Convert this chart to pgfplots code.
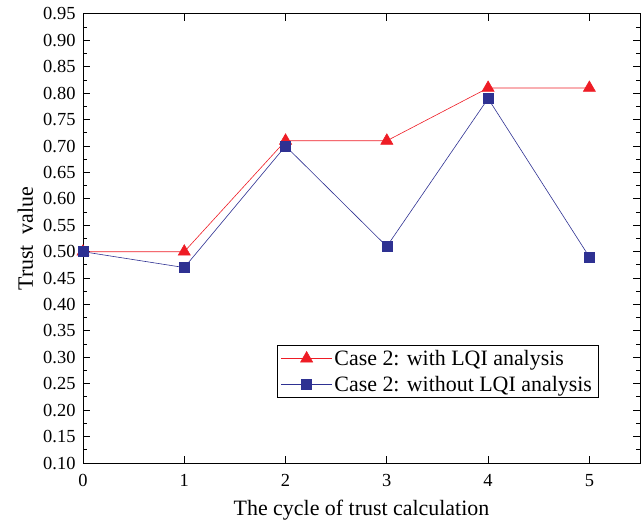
\documentclass[border=0pt]{standalone}
\usepackage{fontspec}
\setmainfont{Liberation Serif}
\usepackage{pgfplots}
\pgfplotsset{compat=1.18}
\definecolor{cRed}{HTML}{EE1C25}
\definecolor{cBlue}{HTML}{2E3192}

\begin{document}
\begin{tikzpicture}
\begin{axis}[
  scale only axis, width=557bp, height=449bp,
  xmin=0, xmax=5.5, ymin=0.10, ymax=0.95,
  xtick={0,1,2,3,4,5},
  ytick={0.10,0.15,0.20,0.25,0.30,0.35,0.40,0.45,0.50,0.55,0.60,0.65,0.70,0.75,0.80,0.85,0.90,0.95},
  yticklabels={0.10,0.15,0.20,0.25,0.30,0.35,0.40,0.45,0.50,0.55,0.60,0.65,0.70,0.75,0.80,0.85,0.90,0.95},
  xticklabels={0,1,2,3,4,5},
  minor y tick num=1,
  tick align=inside,
  major tick length=7bp, minor tick length=4bp,
  tick style={black, line width=1pt},
  axis line style={line width=1pt},
  tick label style={font=\fontsize{18.5}{18.5}\selectfont},
  yticklabel style={xshift=-4bp},
  xticklabel style={yshift=-8bp},
  label style={font=\fontsize{22}{22}\selectfont},
  xlabel={The cycle of trust calculation},
  ylabel={Trust\ \ value},
  xlabel style={at={(axis description cs:0.5,0)}, anchor=base, yshift=-52bp},
  ylabel style={at={(axis description cs:-0.0898,0.5)}, anchor=base},
  legend style={at={(0.925,0.145)}, anchor=south east, draw=black, line width=0.6pt,
    font=\fontsize{22}{23}\selectfont, inner xsep=4bp, inner ysep=3bp, row sep=5bp},
  legend cell align=left,
  legend image code/.code={\draw[mark repeat=2, mark phase=2] plot coordinates {(0cm,0cm) (0.9cm,0cm) (1.8cm,0cm)};},
]
\addplot[cRed, line width=0.6pt, mark=triangle*, mark size=7pt, mark options={solid, fill=cRed, draw=cRed}]
  coordinates {(0,0.50) (1,0.50) (2,0.71) (3,0.71) (4,0.81) (5,0.81)};
\addplot[cBlue, line width=0.6pt, mark=square*, mark size=5pt, mark options={solid, fill=cBlue, draw=cBlue}]
  coordinates {(0,0.50) (1,0.47) (2,0.70) (3,0.51) (4,0.79) (5,0.49)};
\legend{Case 2: with LQI analysis, Case 2: without LQI analysis}
\end{axis}
\path ([shift={(-83bp,-60bp)}]current axis.south west) rectangle ([shift={(1bp,14bp)}]current axis.north east);
\end{tikzpicture}
\end{document}
